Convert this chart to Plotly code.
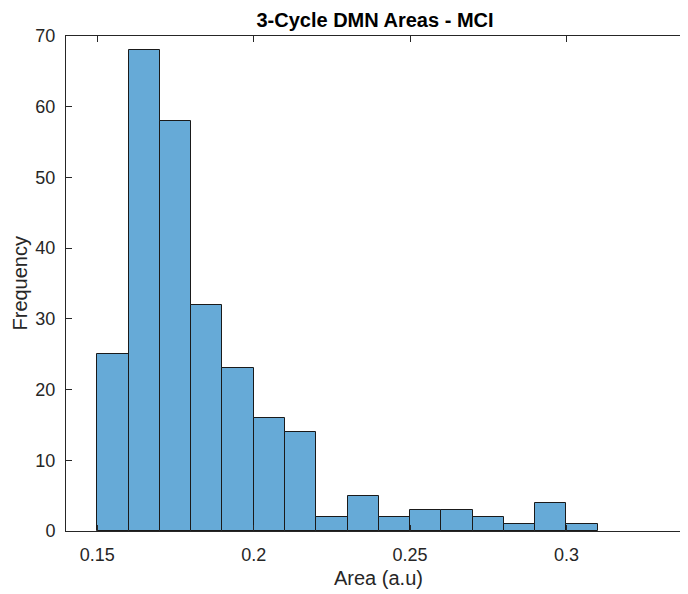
import plotly.graph_objects as go

bin_edges = [0.15, 0.16, 0.17, 0.18, 0.19, 0.20, 0.21, 0.22, 0.23, 0.24,
             0.25, 0.26, 0.27, 0.28, 0.29, 0.30, 0.31]
counts = [25, 68, 58, 32, 23, 16, 14, 2, 5, 2, 3, 3, 2, 1, 4, 1]
x_ticks = [0.15, 0.2, 0.25, 0.3]
x_tick_labels = ["0.15", "0.2", "0.25", "0.3"]
y_ticks = [0, 10, 20, 30, 40, 50, 60, 70]

centers = [(bin_edges[i] + bin_edges[i + 1]) / 2 for i in range(len(counts))]
widths = [bin_edges[i + 1] - bin_edges[i] for i in range(len(counts))]

# page body has an 8px default margin, so the figure is sized to fill the rest
OFF = 8
W, H = 688 - OFF, 594 - OFF
L, R, T, B = 66 - OFF, 0, 36 - OFF, 63
PW, PH = W - L - R, H - T - B
FONT = "Liberation Sans, Arial, sans-serif"
AX = "#262626"

fig = go.Figure(go.Bar(
    x=centers, y=counts, width=widths,
    marker=dict(color="#66AAD7", line=dict(color="#1a1a1a", width=1)),
    hoverinfo="x+y",
))

fig.update_layout(
    width=W, height=H,
    margin=dict(l=L, r=R, t=T, b=B, pad=0, autoexpand=False),
    paper_bgcolor="white", plot_bgcolor="white",
    showlegend=False,
    font=dict(family=FONT, color=AX, size=18),
    bargap=0,
    title=dict(text="<b>3-Cycle DMN Areas - MCI</b>",
               x=(375 - OFF - L) / PW, xref="paper", xanchor="center",
               y=1 - (20 - OFF) / H, yref="container", yanchor="middle",
               font=dict(size=20, color="black", family=FONT)),
    xaxis=dict(range=[0.14, 0.14 + PW / 3128.0], tickvals=x_ticks, ticktext=x_tick_labels,
               ticks="inside", ticklen=6, tickcolor=AX, showline=True, linecolor=AX,
               linewidth=1, mirror="allticks", showgrid=False, zeroline=False,
               ticklabelstandoff=7, automargin=False,
               tickfont=dict(size=18, color=AX, family=FONT)),
    yaxis=dict(range=[0, 70], tickvals=y_ticks, ticks="inside", ticklen=6, tickcolor=AX,
               showline=True, linecolor=AX, linewidth=1, mirror="ticks",
               showgrid=False, zeroline=False, ticklabelstandoff=6, automargin=False,
               tickfont=dict(size=18, color=AX, family=FONT)),
    annotations=[
        dict(text="Frequency", xref="paper", yref="paper",
             x=(19 - OFF - L) / PW, y=0.5, xanchor="center", yanchor="middle",
             textangle=-90, showarrow=False, font=dict(size=20, color=AX, family=FONT)),
        dict(text="Area (a.u)", xref="paper", yref="paper",
             x=(378 - OFF - L) / PW, y=-(578 - 531) / PH,
             xanchor="center", yanchor="middle", showarrow=False,
             font=dict(size=20, color=AX, family=FONT)),
    ],
)

fig.write_html("out.html")
